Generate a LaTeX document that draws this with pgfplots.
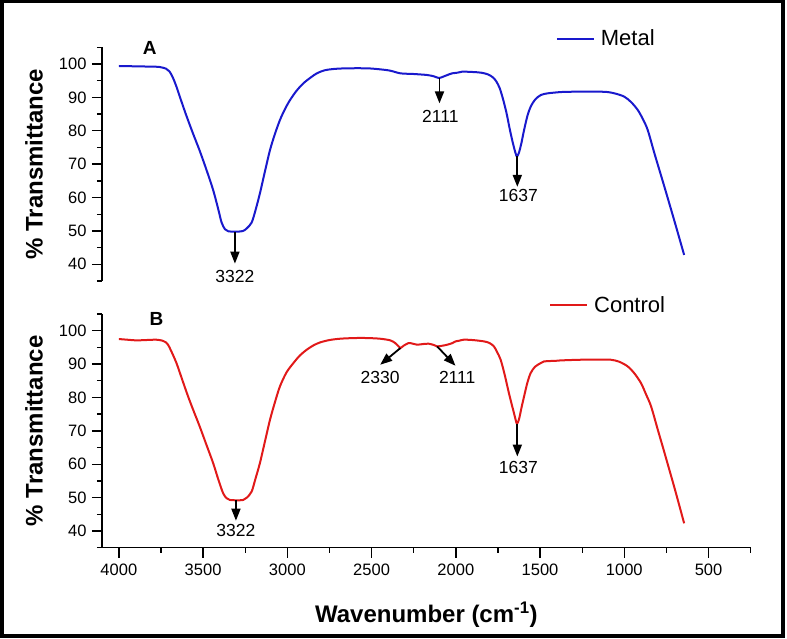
\documentclass[border=0pt]{standalone}
\usepackage{fontspec}
\setmainfont{Liberation Sans}
\usepackage{pgfplots}
\pgfplotsset{compat=1.18}
\usetikzlibrary{arrows.meta}
\definecolor{metal}{RGB}{25,25,205}
\definecolor{control}{RGB}{225,25,25}

\tikzset{
  note/.style={font=\fontsize{17.5}{20}\selectfont},
  pk/.style={-{Triangle[length=12pt,width=9pt]}, line width=1.8pt},
  panel/.style={font=\bfseries\fontsize{19}{22}\selectfont},
}
\pgfplotsset{
  ftir/.style={
    scale only axis, width=648.7pt, height=233.7pt,
    x dir=reverse, xmin=250, xmax=4100, ymin=35, ymax=105,
    ytick={40,50,...,100}, minor ytick={35,45,...,105},
    xtick={500,1000,...,4000}, minor xtick={250,750,...,3750},
    tick align=outside,
    major tick length=10pt, minor tick length=5pt,
    every tick/.style={black, line width=1.4pt},
    axis line style={line width=1.4pt},
    tick label style={font=\fontsize{16.5}{19}\selectfont},
    yticklabel style={xshift=-2pt},
    xticklabel style={yshift=-3pt},
    /pgf/number format/assume math mode=true,
    /pgf/number format/1000 sep={},
    ylabel={\% Transmittance},
    ylabel style={font=\bfseries\fontsize{24}{28}\selectfont,
      at={(axis description cs:-0.0914,0.5)}, anchor=base},
    clip=false,
    legend style={draw=none, fill=none, inner sep=0pt, anchor=west,
      font=\fontsize{22}{26}\selectfont, nodes={inner sep=0pt},
      /tikz/every odd column/.append style={column sep=6pt}},
    legend image code/.code={\draw[#1] (0pt,0pt) -- (37pt,0pt);},
  },
}

\begin{document}
\begin{tikzpicture}
\useasboundingbox (0,0) rectangle (787pt,639pt);
\draw[line width=3.8pt] (2pt,2.7pt) rectangle (783.3pt,637.5pt);

% A: metal
\begin{axis}[ftir, at={(102pt,358pt)}, anchor=south west,
  hide x axis, axis y line*=left, tick align=outside,
  legend style={at={(axis description cs:0.6994,1.0368)}}]
\addplot[metal, line width=2pt, smooth] coordinates {
(4000,99.4) (3900,99.3) (3800,99.2) (3758,99.1) (3720,98.6) (3700,97.8)
(3680,96.0) (3658,93.2) (3630,89.0) (3599,84.5) (3560,79.2) (3520,74.0)
(3480,68.3) (3440,62.2) (3410,56.5) (3390,52.5) (3370,50.5) (3351,49.9)
(3322,49.8) (3290,49.8) (3262,50.0) (3240,50.8) (3212,52.5) (3190,56.0)
(3163,61.2) (3133,67.8) (3103,74.2) (3074,79.0) (3044,83.2) (3014,86.5)
(2984,89.2) (2945,92.0) (2905,94.2) (2860,96.0) (2825,97.2) (2780,98.1)
(2726,98.5) (2650,98.7) (2527,98.7) (2450,98.4) (2389,98.0) (2329,97.2)
(2250,97.0) (2170,96.7) (2130,96.3) (2100,95.8) (2070,96.3) (2040,96.9)
(2022,97.2) (1990,97.4) (1962,97.7) (1900,97.6) (1850,97.4) (1810,96.9)
(1780,96.0) (1760,94.8) (1740,92.8) (1720,89.5) (1700,85.5) (1680,80.5)
(1660,76.0) (1645,73.2) (1637,72.3) (1625,73.5) (1610,76.5) (1595,80.2)
(1575,84.5) (1556,87.2) (1530,89.3) (1496,90.7) (1456,91.2) (1400,91.5)
(1377,91.6) (1300,91.7) (1258,91.7) (1150,91.7) (1099,91.6) (1050,91.1)
(1000,90.2) (960,88.6) (920,86.2) (890,83.5) (861,80.2) (820,73.0)
(762,63.2) (700,52.5) (645,42.8)
};
\addlegendentry{Metal}
\draw[pk] (axis cs:3311,49.6) -- (axis cs:3311,40.2);
\node[note] at (axis cs:3311,36.3) {3322};
\draw[pk] (axis cs:2097,95.8) -- (axis cs:2097,88.2);
\node[note] at (axis cs:2092,84.2) {2111};
\draw[pk] (axis cs:1635,72.3) -- (axis cs:1635,63.2);
\node[note] at (axis cs:1629,60.7) {1637};
\node[panel] at (axis cs:3817,104.8) {A};
\end{axis}

% B: control
\begin{axis}[ftir, at={(102pt,91.3pt)}, anchor=south west,
  axis lines*=left, tick align=outside,
  xlabel={Wavenumber (cm\textsuperscript{-1})},
  xlabel style={font=\bfseries\fontsize{24}{28}\selectfont,
    at={(axis description cs:0.5,0)}, anchor=base, yshift=-75pt},
  legend style={at={(axis description cs:0.689,1.0385)}}]
\addplot[control, line width=2pt, smooth] coordinates {
(4000,97.5) (3950,97.3) (3897,97.1) (3840,97.2) (3777,97.3) (3740,97.0)
(3720,96.5) (3708,95.8) (3690,94.0) (3658,90.3) (3625,85.5) (3589,80.3)
(3555,75.8) (3520,71.3) (3480,65.8) (3440,60.3) (3410,55.5) (3381,51.3)
(3360,49.8) (3341,49.3) (3300,49.2) (3262,49.3) (3240,50.0) (3212,51.8)
(3190,55.5) (3163,60.3) (3133,66.8) (3103,73.3) (3074,78.5) (3044,83.3)
(3005,87.5) (2964,90.3) (2925,92.6) (2885,94.3) (2845,95.6) (2805,96.5)
(2750,97.2) (2686,97.6) (2600,97.8) (2527,97.8) (2450,97.6) (2389,97.1)
(2360,96.3) (2340,95.3) (2329,94.8) (2310,95.5) (2280,96.3) (2255,96.1)
(2230,95.8) (2195,96.0) (2161,96.1) (2130,95.7) (2111,95.3) (2080,95.5)
(2051,95.8) (2020,96.3) (2002,96.8) (1980,97.0) (1953,97.3) (1900,97.2)
(1833,96.8) (1800,96.3) (1774,95.3) (1755,93.6) (1734,91.3) (1710,86.8)
(1685,81.3) (1660,76.3) (1645,73.3) (1637,72.1) (1625,73.5) (1610,77.0)
(1595,80.3) (1575,84.5) (1556,87.3) (1530,89.2) (1496,90.3) (1476,90.8)
(1400,91.0) (1377,91.1) (1258,91.3) (1150,91.3) (1080,91.3) (1030,90.7)
(980,89.3) (940,87.2) (901,84.3) (870,80.8) (841,77.3) (800,70.1)
(762,63.5) (700,52.5) (645,42.3)
};
\addlegendentry{Control}
\draw[pk] (axis cs:3305,49.2) -- (axis cs:3305,43.1);
\node[note] at (axis cs:3305,40.3) {3322};
\draw[pk] (axis cs:2329,94.8) -- (axis cs:2449,89.8);
\node[note] at (axis cs:2449,86.1) {2330};
\draw[pk] (axis cs:2111,95.3) -- (axis cs:2002,89.5);
\node[note] at (axis cs:1992,86.1) {2111};
\draw[pk] (axis cs:1635,72.1) -- (axis cs:1635,62.3);
\node[note] at (axis cs:1629,59.1) {1637};
\node[panel] at (axis cs:3776,103.6) {B};
\end{axis}
\end{tikzpicture}
\end{document}
